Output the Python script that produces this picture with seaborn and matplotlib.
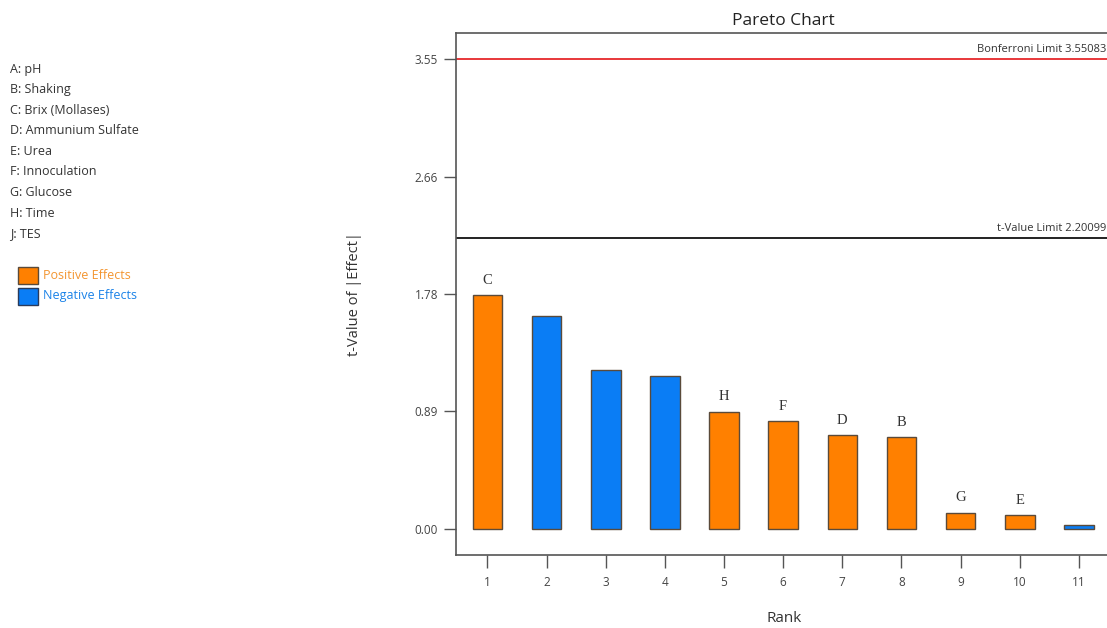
import pandas as pd
import matplotlib.pyplot as plt
import seaborn as sns

ranks = [1, 2, 3, 4, 5, 6, 7, 8, 9, 10, 11]
t_values = [1.767, 1.609, 1.200, 1.158, 0.886, 0.816, 0.710, 0.693, 0.126, 0.106, 0.030]
effects = ["Positive", "Negative", "Negative", "Negative", "Positive", "Positive",
           "Positive", "Positive", "Positive", "Positive", "Negative"]
bar_labels = ["C", "", "", "", "H", "F", "D", "B", "G", "E", ""]
factor_names = ["A: pH", "B: Shaking", "C: Brix (Mollases)", "D: Ammunium Sulfate",
                "E: Urea", "F: Innoculation", "G: Glucose", "H: Time", "J: TES"]
ytick_values = [0.00, 0.89, 1.78, 2.66, 3.55]
bonferroni = 3.55083
t_limit = 2.20099

sns.set_style("white")
plt.rcParams['font.family'] = ['Open Sans', 'DejaVu Sans']

df = pd.DataFrame({"Rank": ranks, "t": t_values, "Effect": effects})
colors = {"Positive": "#FF8000", "Negative": "#0A7DF5"}

fig = plt.figure(figsize=(11.07, 6.28), dpi=100)
ax = fig.add_axes([0.412, 0.116, 0.592, 0.831])

sns.barplot(data=df, x="Rank", y="t", hue="Effect", palette=colors,
            native_scale=True, dodge=False, width=0.5, saturation=1,
            edgecolor="#5a4a3a", linewidth=1.0, legend=False, ax=ax)

#letras acima das barras
for r, v, lab in zip(ranks, t_values, bar_labels):
    if lab:
        ax.text(r, v + 0.065, lab, ha="center", va="bottom", fontsize=10.5,
                family="Liberation Serif", color="#333333")

ax.axhline(bonferroni, color="#E8373A", lw=1.4)
ax.axhline(t_limit, color="#222222", lw=1.4)
ax.text(11.47, bonferroni + 0.03, f"Bonferroni Limit {bonferroni}", ha="right",
        va="bottom", fontsize=8, color="#333333")
ax.text(11.47, t_limit + 0.03, f"t-Value Limit {t_limit}", ha="right",
        va="bottom", fontsize=8, color="#333333")

ax.set_xlim(0.47, 11.55)
ax.set_ylim(-0.196, 3.746)
ax.set_xticks(ranks)
ax.set_xticklabels([str(r) for r in ranks])
ax.set_yticks(ytick_values)
ax.set_yticklabels([f"{v:.2f}" for v in ytick_values])
ax.tick_params(axis="both", direction="out", length=9, width=1, color="#555555",
               labelsize=8.5, labelcolor="#444444", bottom=True, left=True, pad=4)
ax.tick_params(axis="x", pad=6)
for s in ["left", "bottom", "top"]:
    ax.spines[s].set_color("#555555")
    ax.spines[s].set_linewidth(1.2)
ax.spines["right"].set_visible(False)

ax.set_title("Pareto Chart", fontsize=12.5, color="#222222", pad=6)
ax.set_xlabel("Rank", fontsize=11, color="#333333", labelpad=16)
ax.set_ylabel("t-Value of |Effect|", fontsize=10.5, color="#333333", labelpad=38)

#legenda à esquerda
for i, name in enumerate(factor_names):
    fig.text(10 / 1107, 1 - (69 + i * 20.6) / 628, name, fontsize=9,
             color="#333333", va="center")

fig.patches.append(plt.Rectangle((18 / 1107, 1 - 284 / 628), 20 / 1107, 17 / 628,
                                 transform=fig.transFigure, facecolor="#FF8000",
                                 edgecolor="#5a4a3a", lw=1))
fig.patches.append(plt.Rectangle((18 / 1107, 1 - 305 / 628), 20 / 1107, 17 / 628,
                                 transform=fig.transFigure, facecolor="#0A7DF5",
                                 edgecolor="#2a3a5a", lw=1))
fig.text(43 / 1107, 1 - 275 / 628, "Positive Effects", fontsize=9,
         color="#F39530", va="center")
fig.text(43 / 1107, 1 - 296 / 628, "Negative Effects", fontsize=9,
         color="#1A82E8", va="center")

fig.savefig("out.png", dpi=100)
